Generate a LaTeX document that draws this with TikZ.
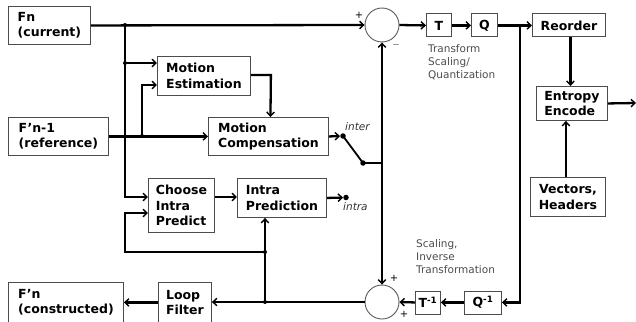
\documentclass[tikz,border=0pt]{standalone}
\usepackage{fontspec}
\setmainfont{DejaVu Sans}
\usetikzlibrary{arrows.meta,calc}
\begin{document}
\begin{tikzpicture}[x=1pt,y=-1pt,
 box/.style={draw=black!70,line width=0.9pt,font=\bfseries\fontsize{12.5}{15.5}\selectfont,align=left,inner sep=0pt,anchor=north west},
 wire/.style={line width=2.3pt},
 bus/.style={line width=2.9pt},
 tip/.style={-{Straight Barb[length=4pt,width=7.5pt,line width=1.4pt]}},
 arr/.style={wire,tip},
 dot/.style={circle,fill,inner sep=0pt,minimum size=5.5pt},
 sdot/.style={circle,fill,inner sep=0pt,minimum size=4pt},
 sum/.style={circle,draw=black!65,line width=0.9pt,minimum size=34pt,inner sep=0pt},
 note/.style={font=\fontsize{10.5}{13}\selectfont,text=black!70,align=left,anchor=north west,inner sep=0pt},
 sign/.style={font=\fontsize{10}{12}\selectfont,inner sep=0pt},
]
\useasboundingbox (0,0) rectangle (636,321);
\clip (0,0) rectangle (636,321);

% boxes
\node[box,minimum width=82pt,minimum height=38pt] (fn) at (8,6) {Fn\\(current)};
\node[box,minimum width=100pt,minimum height=38pt] (ref) at (8,117) {F’n-1\\(reference)};
\node[box,minimum width=93pt,minimum height=39pt] (me) at (157,56) {Motion\\Estimation};
\node[box,minimum width=120pt,minimum height=38pt] (mc) at (208,117) {Motion\\Compensation};
\node[box,minimum width=66pt,minimum height=54pt] (cip) at (148,178) {Choose\\Intra\\Predict};
\node[box,minimum width=89pt,minimum height=39pt] (ip) at (237,178) {Intra\\Prediction};
\node[box,minimum width=25pt,minimum height=23pt,align=center] (T) at (426,13.5) {T};
\node[box,minimum width=26pt,minimum height=23pt,align=center] (Q) at (471,13.5) {Q};
\node[box,minimum width=73pt,minimum height=23pt,align=center] (reo) at (532,13.5) {Reorder};
\node[box,minimum width=71pt,minimum height=34pt] (ent) at (536,86) {Entropy\\Encode};
\node[box,minimum width=75pt,minimum height=39pt,align=center] (vec) at (530,177) {Vectors,\\Headers};
\node[box,minimum width=25pt,minimum height=23pt,align=center] (Ti) at (415,290.5) {T\textsuperscript{-1}};
\node[box,minimum width=37pt,minimum height=23pt,align=center] (Qi) at (464,290.5) {Q\textsuperscript{-1}};
\node[box,minimum width=53pt,minimum height=40pt] (lf) at (158,282) {Loop\\Filter};
\node[box,minimum width=115pt,minimum height=40pt] (fnc) at (8,282) {F’n\\(constructed)};

% summing junctions
\node[sum] (s1) at (382,25) {};
\node[sum] (s2) at (382,302) {};
\node[sign] at (359,15) {+};
\node[sign] at (396,45) {$-$};
\node[sign] at (394,278) {+};
\node[sign] at (404,314) {+};

% notes
\node[note] (tq) at (428,44) {Transform\\Scaling/\\Quantization};
\node[note] (sit) at (416,239) {Scaling,\\Inverse\\Transformation};

% junction points
\coordinate (bt) at (125,25);
\coordinate (b1) at (125,63);
\node[sdot] (d1) at (142,136) {};
\node[dot] (inter) at (343,136) {};
\node[dot] (sw) at (363,163) {};
\coordinate (sj) at (382,163);
\node[dot] (intra) at (346,197.5) {};
\coordinate (qj) at (520,25);
\node[sdot] (lj) at (265,302) {};
\node[sdot] (lj2) at (265,252) {};
\coordinate (out) at (636,103);
\node[sdot] at (bt) {};
\node[sdot] at (b1) {};

\node[font=\itshape\fontsize{10.5}{12}\selectfont,text=black!80,anchor=south west,inner sep=0pt] at (345,131) {inter};
\node[font=\itshape\fontsize{10.5}{12}\selectfont,text=black!80,anchor=north west,inner sep=0pt] at (343,202) {intra};

% connectors
\draw[arr] (fn.east) -- (s1.west);
\draw[bus,tip] (bt) |- ([yshift=-19pt]cip.north west);
\draw[arr] (b1) -- (b1 -| me.west);
\draw[arr] (ref.east) -- (mc.west);
\draw[arr] (d1.center) |- ([yshift=-29pt]me.north west);
\draw[arr] ([yshift=-19pt]me.north east) -- ++(20,0) -- ([xshift=2pt]mc.north);
\draw[arr] (mc.east) -- (inter);
\draw[wire,line width=1.8pt] (inter.center) -- (sw.center);
\draw[wire] (sw.center) -- (sj);
\draw[arr] (sj) -- (s1.south);
\draw[arr] (sj) -- (s2.north);
\draw[arr] ([yshift=-19pt]cip.north east) -- ([yshift=-19pt]ip.north west);
\draw[arr] (ip.east) -- (intra);
\draw[arr] (s1.east) -- (T.west);
\draw[arr] (T.east) -- (Q.west);
\draw[arr] (Q.east) -- (reo.west);
\draw[bus,tip] (qj) |- (Qi.east);
\draw[arr] (Qi.west) -- (Ti.east);
\draw[arr] (Ti.west) -- (s2.east);
\draw[arr] ([xshift=1.5pt]reo.south) -- ([xshift=1.5pt]reo.south |- ent.north);
\draw[arr] ([xshift=-2pt]vec.north) -- ([xshift=-2pt]vec.north |- ent.south);
\draw[arr] (ent.east) -- (out);
\draw[arr] (s2.west) -- (s2.west -| lf.east);
\draw[arr] (lj.center) -- (lj.center |- ip.south);
\draw[arr] (lj2.center) -- (125,252) |- ([yshift=-35pt]cip.north west);
\draw[arr] (lf.west) -- (fnc.east);
\end{tikzpicture}
\end{document}
